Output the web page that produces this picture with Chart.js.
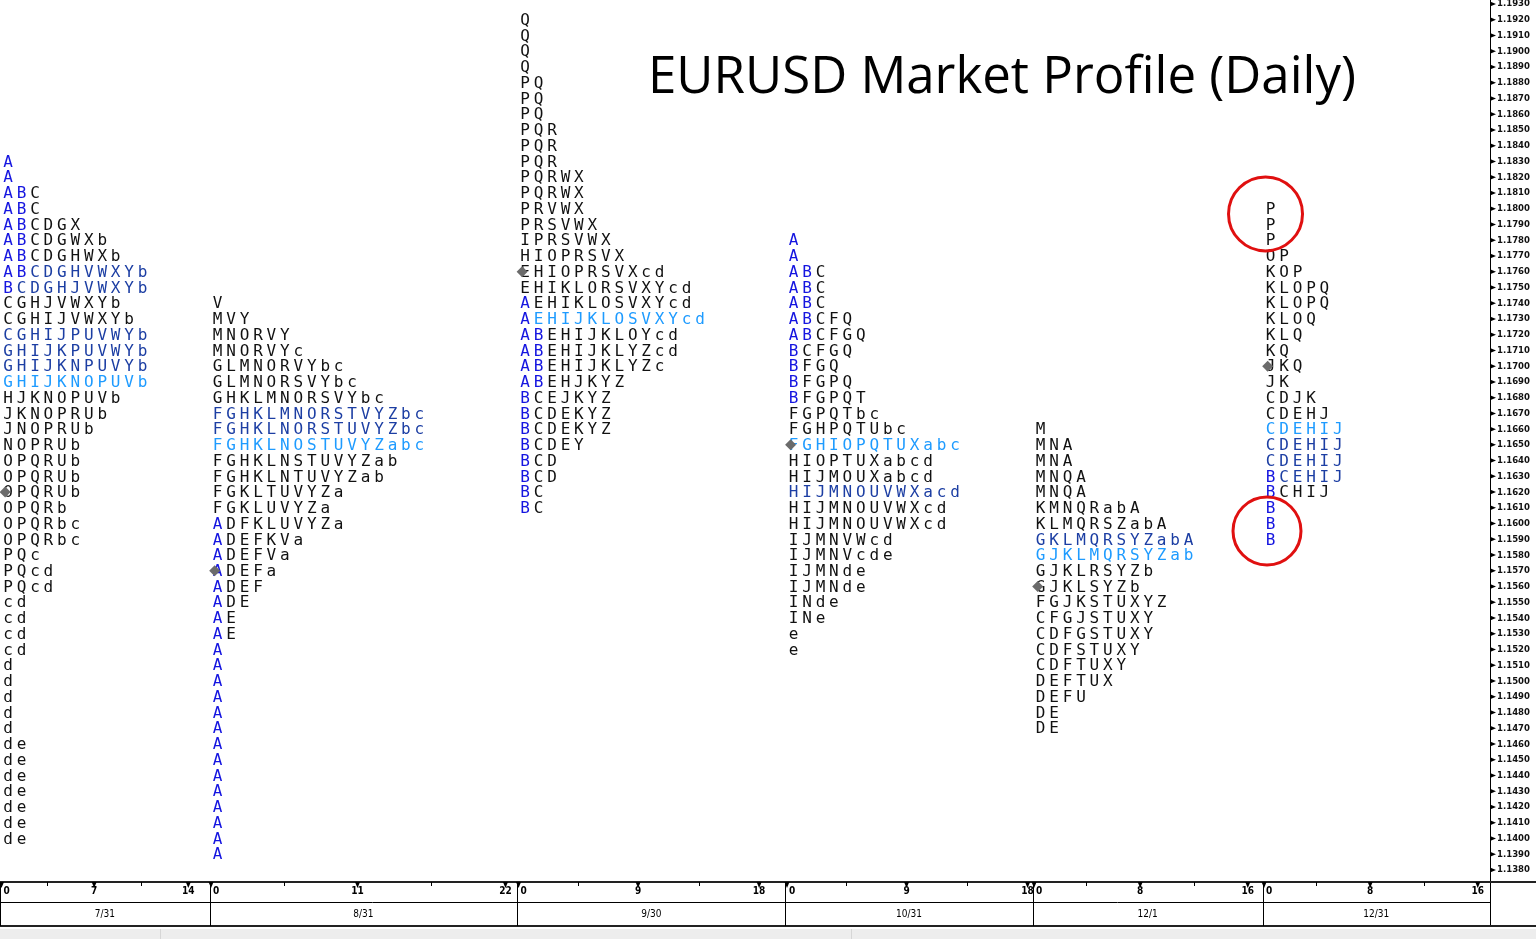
<!DOCTYPE html>
<html>
<head>
<meta charset="utf-8">
<title>EURUSD Market Profile (Daily)</title>
<script src="https://cdn.jsdelivr.net/npm/chart.js@4.4.1/dist/chart.umd.min.js"></script>
<style>
  html, body { margin: 0; padding: 0; background: #fff; }
  #wrap { width: 1536px; height: 939px; }
</style>
</head>
<body>
<div id="wrap"><canvas id="profile" width="1536" height="939"></canvas></div>
<script>
// sessions on the bottom axis
const SESSIONS = ['7/31', '8/31', '9/30', '10/31', '12/1', '12/31'];
// width of each session, in TPO columns
const SESSION_SPAN = [15.58, 22.86, 19.96, 18.37, 17.1, 16.91];
const SESSION_TICKS = [[0, 7, 14], [0, 11, 22], [0, 9, 18], [0, 9, 18], [0, 8, 16], [0, 8, 16]];

// price axis
const PRICE_MIN = 1.1380;
const PRICE_MAX = 1.1930;
const PRICE_STEP = 0.001;

// highest row of each profile, rows then go down one step each
const TOP_PRICE = [1.1830, 1.1740, 1.1920, 1.1780, 1.1660, 1.1800];

const TPO_0731 = ['A', 'A', 'ABC', 'ABC', 'ABCDGX', 'ABCDGWXb', 'ABCDGHWXb', 'ABCDGHVWXYb',
  'BCDGHJVWXYb', 'CGHJVWXYb', 'CGHIJVWXYb', 'CGHIJPUVWYb', 'GHIJKPUVWYb', 'GHIJKNPUVYb',
  'GHIJKNOPUVb', 'HJKNOPUVb', 'JKNOPRUb', 'JNOPRUb', 'NOPRUb', 'OPQRUb', 'OPQRUb', 'OPQRUb',
  'OPQRb', 'OPQRbc', 'OPQRbc', 'PQc', 'PQcd', 'PQcd', 'cd', 'cd', 'cd', 'cd',
  'd', 'd', 'd', 'd', 'd', 'de', 'de', 'de', 'de', 'de', 'de', 'de'];
const TPO_0831 = ['V', 'MVY', 'MNORVY', 'MNORVYc', 'GLMNORVYbc', 'GLMNORSVYbc', 'GHKLMNORSVYbc',
  'FGHKLMNORSTVYZbc', 'FGHKLNORSTUVYZbc', 'FGHKLNOSTUVYZabc', 'FGHKLNSTUVYZab', 'FGHKLNTUVYZab',
  'FGKLTUVYZa', 'FGKLUVYZa', 'ADFKLUVYZa', 'ADEFKVa', 'ADEFVa', 'ADEFa', 'ADEF', 'ADE', 'AE', 'AE',
  'A', 'A', 'A', 'A', 'A', 'A', 'A', 'A', 'A', 'A', 'A', 'A', 'A', 'A'];
const TPO_0930 = ['Q', 'Q', 'Q', 'Q', 'PQ', 'PQ', 'PQ', 'PQR', 'PQR', 'PQR', 'PQRWX', 'PQRWX',
  'PRVWX', 'PRSVWX', 'IPRSVWX', 'HIOPRSVX', 'EHIOPRSVXcd', 'EHIKLORSVXYcd', 'AEHIKLOSVXYcd',
  'AEHIJKLOSVXYcd', 'ABEHIJKLOYcd', 'ABEHIJKLYZcd', 'ABEHIJKLYZc', 'ABEHJKYZ', 'BCEJKYZ',
  'BCDEKYZ', 'BCDEKYZ', 'BCDEY', 'BCD', 'BCD', 'BC', 'BC'];
const TPO_1031 = ['A', 'A', 'ABC', 'ABC', 'ABC', 'ABCFQ', 'ABCFGQ', 'BCFGQ', 'BFGQ', 'BFGPQ',
  'BFGPQT', 'FGPQTbc', 'FGHPQTUbc', 'FGHIOPQTUXabc', 'HIOPTUXabcd', 'HIJMOUXabcd',
  'HIJMNOUVWXacd', 'HIJMNOUVWXcd', 'HIJMNOUVWXcd', 'IJMNVWcd', 'IJMNVcde', 'IJMNde', 'IJMNde',
  'INde', 'INe', 'e', 'e'];
const TPO_1201 = ['M', 'MNA', 'MNA', 'MNQA', 'MNQA', 'KMNQRabA', 'KLMQRSZabA', 'GKLMQRSYZabA',
  'GJKLMQRSYZab', 'GJKLRSYZb', 'GJKLSYZb', 'FGJKSTUXYZ', 'CFGJSTUXY', 'CDFGSTUXY', 'CDFSTUXY',
  'CDFTUXY', 'DEFTUX', 'DEFU', 'DE', 'DE'];
const TPO_1231 = ['P', 'P', 'P', 'OP', 'KOP', 'KLOPQ', 'KLOPQ', 'KLOQ', 'KLQ', 'KQ', 'JKQ', 'JK',
  'CDJK', 'CDEHJ', 'CDEHIJ', 'CDEHIJ', 'CDEHIJ', 'BCEHIJ', 'BCHIJ', 'B', 'B', 'B'];
const PROFILES = [TPO_0731, TPO_0831, TPO_0930, TPO_1031, TPO_1201, TPO_1231];

// point of control, value area rows and the marked price of each session
const POC_PRICE = [1.1690, 1.1650, 1.1730, 1.1650, 1.1580, 1.1660];
const VALUE_ROWS = [[1.1760, 1.1750, 1.1720, 1.1710, 1.1700], [1.1670, 1.1660], [], [1.1620], [1.1590],
  [1.1650, 1.1640, 1.1630]];
const MARK_PRICE = [1.1620, 1.1570, 1.1760, 1.1650, 1.1560, 1.1700];

const starts = [];
SESSION_SPAN.reduce((acc, w) => { starts.push(acc); return acc + w; }, 0);
const X_MAX = starts[starts.length - 1] + SESSION_SPAN[SESSION_SPAN.length - 1];

const groups = { plain: [], value: [], poc: [], ib: [] };
PROFILES.forEach((rows, s) => {
  rows.forEach((row, r) => {
    const price = +(TOP_PRICE[s] - r * PRICE_STEP).toFixed(4);
    let lead = true;
    [...row].forEach((ch, i) => {
      let g = 'plain';
      if (lead && (ch === 'A' || ch === 'B')) {
        g = 'ib';
      } else {
        lead = false;
        if (price === POC_PRICE[s]) g = 'poc';
        else if (VALUE_ROWS[s].includes(price)) g = 'value';
      }
      groups[g].push({ x: starts[s] + 0.6 + i, y: price, t: ch });
    });
  });
});
const marks = MARK_PRICE.map((p, s) => ({ x: starts[s] + 0.38, y: p }));

function letterSet(name, color) {
  return { label: name, data: groups[name], letters: true, textColor: color,
    pointRadius: 0, pointHoverRadius: 0, showLine: false };
}

const tpoText = {
  id: 'tpoText',
  beforeDatasetsDraw(chart) {
    const ctx = chart.ctx;
    ctx.save();
    ctx.font = '16px "DejaVu Sans Mono"';
    ctx.textAlign = 'center';
    ctx.textBaseline = 'middle';
    chart.data.datasets.forEach((ds, i) => {
      if (!ds.letters) return;
      ctx.fillStyle = ds.textColor;
      chart.getDatasetMeta(i).data.forEach((pt, j) => {
        ctx.fillText(ds.data[j].t, pt.x, pt.y + 1);
      });
    });
    ctx.restore();
  }
};

const frame = {
  id: 'frame',
  afterDraw(chart) {
    const { ctx, scales: { x, y }, chartArea } = chart;
    const W = chart.width, right = chartArea.right;
    const top = 882, mid = 902, bottom = 926;
    const line = (x1, y1, x2, y2) => { ctx.beginPath(); ctx.moveTo(x1, y1); ctx.lineTo(x2, y2); ctx.stroke(); };
    ctx.save();

    // title
    ctx.fillStyle = '#000';
    ctx.font = '51px "Open Sans"';
    ctx.textAlign = 'center';
    ctx.textBaseline = 'alphabetic';
    ctx.fillText('EURUSD Market Profile (Daily)', 1002, 93);

    // price axis line and arrow ticks
    ctx.strokeStyle = '#000';
    ctx.lineWidth = 1;
    line(right + 0.5, 0, right + 0.5, bottom);
    y.ticks.forEach(t => {
      const py = y.getPixelForValue(t.value);
      ctx.beginPath();
      ctx.moveTo(right, py - 2.5);
      ctx.lineTo(right + 6, py);
      ctx.lineTo(right, py + 2.5);
      ctx.closePath();
      ctx.fill();
    });

    // session axis
    ctx.fillStyle = '#ededed';
    ctx.fillRect(0, 929, W, 10);
    ctx.strokeStyle = '#d6d6d6';
    line(160.5, 929, 160.5, 939);
    line(851.5, 929, 851.5, 939);

    ctx.strokeStyle = '#222';
    ctx.lineWidth = 2;
    line(0, top, W, top);
    line(0, bottom, W, bottom);
    ctx.lineWidth = 1;
    ctx.strokeStyle = '#000';
    line(0, mid + 0.5, right, mid + 0.5);
    line(0.5, top, 0.5, bottom);

    ctx.fillStyle = '#000';
    ctx.textBaseline = 'middle';
    starts.forEach((st, s) => {
      const px0 = Math.round(x.getPixelForValue(st)) + 0.5;
      if (s > 0) line(px0, top, px0, bottom);
      const ticks = SESSION_TICKS[s];
      const maxT = ticks[ticks.length - 1];
      [maxT / 4, maxT * 3 / 4].forEach(v => {
        const px = Math.round(x.getPixelForValue(st + v)) + 0.5;
        line(px, top, px, top + 4);
      });
      ctx.font = 'bold 10px "DejaVu Sans Condensed"';
      ticks.forEach((v, k) => {
        const px = x.getPixelForValue(st + v) + (k === 0 ? 1.5 : 0);
        ctx.beginPath();
        ctx.moveTo(px - 2.5, top);
        ctx.lineTo(px + 2.5, top);
        ctx.lineTo(px, top + 6);
        ctx.closePath();
        ctx.fill();
        ctx.textAlign = k === 0 ? 'left' : 'center';
        ctx.fillText(String(v), k === 0 ? px + 2 : px, 891);
      });
      ctx.font = '10px "DejaVu Sans Condensed"';
      ctx.textAlign = 'center';
      ctx.fillText(SESSIONS[s], x.getPixelForValue(st + SESSION_SPAN[s] / 2), 914);
    });

    // highlighted areas on the last session
    ctx.strokeStyle = '#e01010';
    ctx.lineWidth = 3;
    [[0.22, 1.17967, 37], [0.33, 1.15953, 34]].forEach(([dx, p, r]) => {
      ctx.beginPath();
      ctx.arc(x.getPixelForValue(starts[5] + dx), y.getPixelForValue(p), r, 0, Math.PI * 2);
      ctx.stroke();
    });
    ctx.restore();
  }
};

new Chart(document.getElementById('profile'), {
  type: 'scatter',
  data: {
    datasets: [
      letterSet('plain', '#111111'),
      letterSet('value', '#1c3ea3'),
      letterSet('poc', '#1e9bff'),
      letterSet('ib', '#1515e0'),
      { label: 'mark', data: marks, pointStyle: 'rectRot', pointRadius: 5.5, pointHoverRadius: 5.5,
        backgroundColor: '#6b6b6b', borderColor: '#6b6b6b', borderWidth: 0, clip: false }
    ]
  },
  options: {
    responsive: false,
    animation: false,
    events: [],
    layout: { autoPadding: false, padding: { top: 4, left: 0, right: 0, bottom: 0 } },
    plugins: { legend: { display: false }, tooltip: { enabled: false } },
    scales: {
      x: {
        type: 'linear', min: 0, max: X_MAX,
        grid: { display: false }, border: { display: false },
        ticks: { display: false },
        afterFit(scale) { scale.height = 69; scale.paddingLeft = 0; scale.paddingRight = 0; }
      },
      y: {
        type: 'linear', position: 'right', min: PRICE_MIN, max: PRICE_MAX,
        grid: { display: true, drawOnChartArea: false, drawTicks: true, tickLength: 6, color: 'rgba(0,0,0,0)' },
        border: { display: false },
        ticks: {
          stepSize: PRICE_STEP, autoSkip: false, padding: 1, color: '#111',
          font: { family: '"DejaVu Sans Condensed"', size: 9.5, weight: 'bold' },
          callback: v => v.toFixed(4)
        },
        afterFit(scale) { scale.width = 46; scale.paddingTop = 0; scale.paddingBottom = 0; }
      }
    }
  },
  plugins: [tpoText, frame]
});
</script>
</body>
</html>
